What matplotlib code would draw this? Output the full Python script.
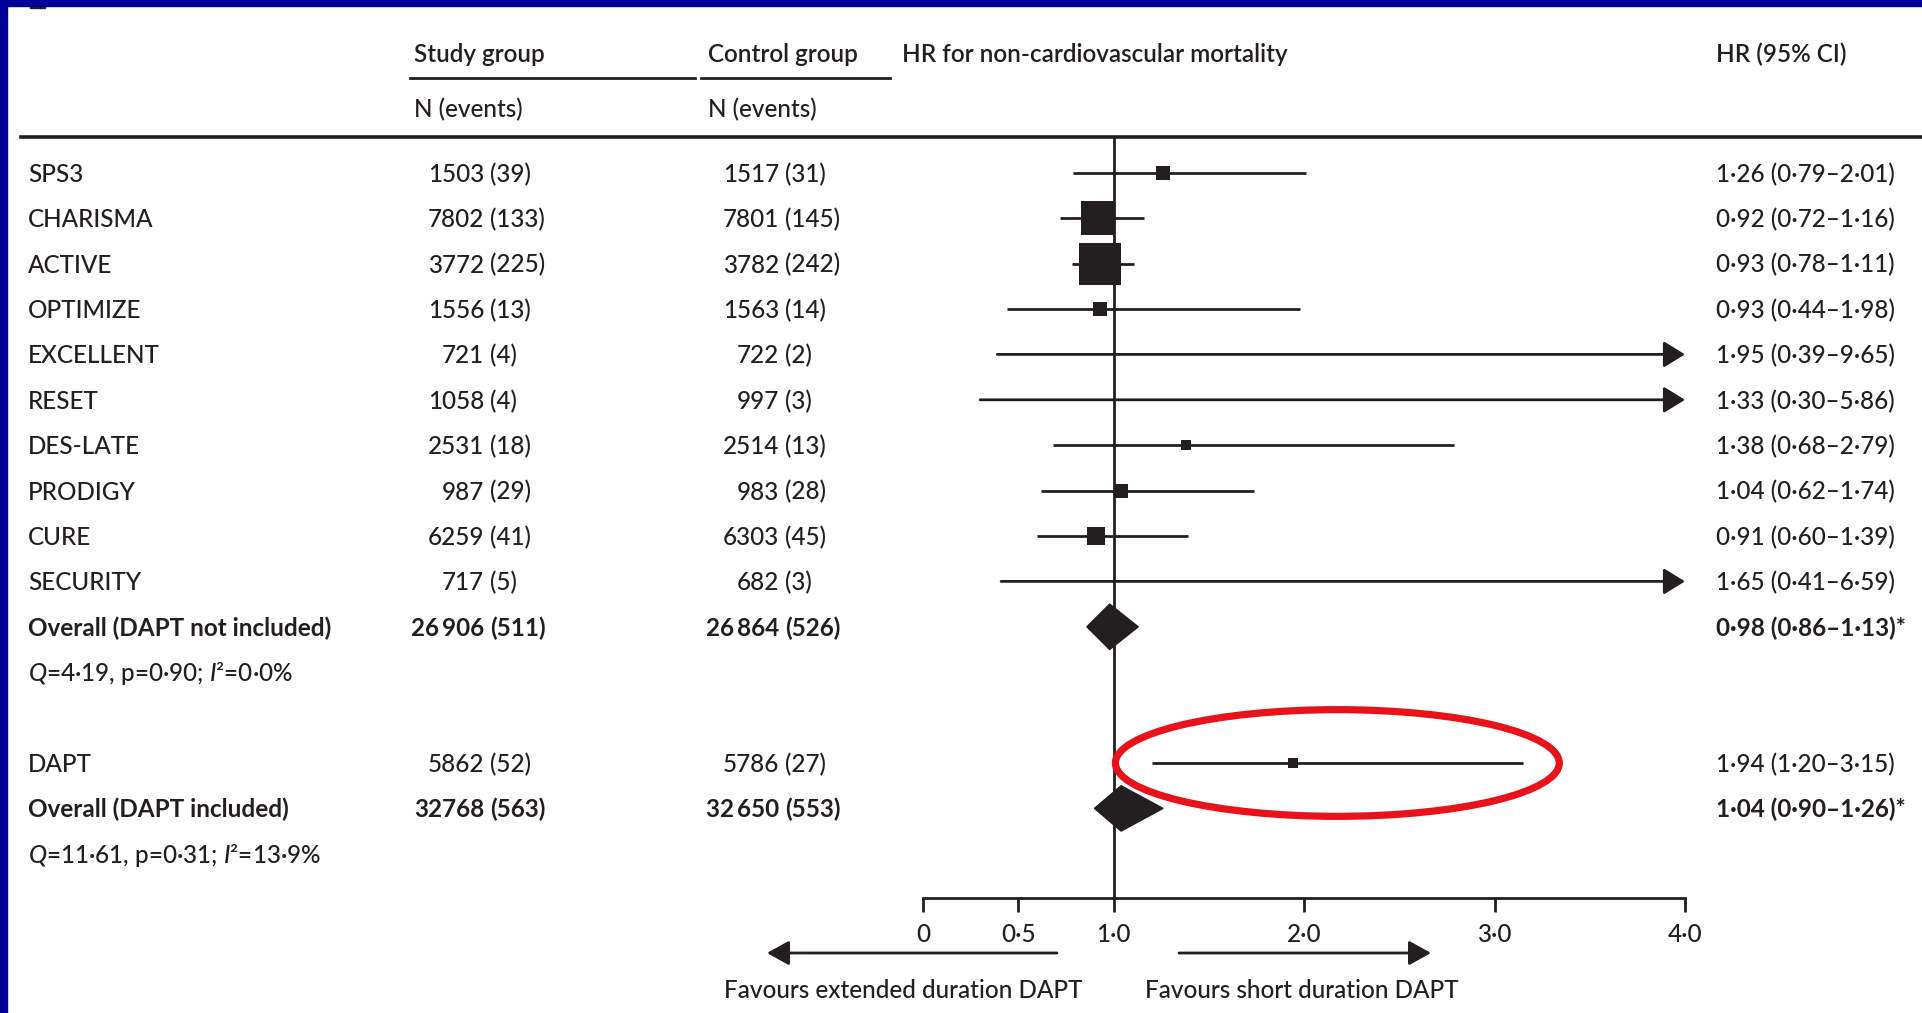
import matplotlib
matplotlib.use('Agg')
import matplotlib.pyplot as plt
import numpy as np
from matplotlib import font_manager as fm
from matplotlib.patches import Polygon, Ellipse, Rectangle

plt.rcParams['font.family'] = ['Lato', 'DejaVu Sans']
plt.rcParams['mathtext.fontset'] = 'custom'
plt.rcParams['mathtext.rm'] = 'Lato'
plt.rcParams['mathtext.it'] = 'Lato:italic:medium'

# data
studies = ['SPS3', 'CHARISMA', 'ACTIVE', 'OPTIMIZE', 'EXCELLENT', 'RESET',
           'DES-LATE', 'PRODIGY', 'CURE', 'SECURITY']
study_n = ['1503', '7802', '3772', '1556', '721', '1058', '2531', '987', '6259', '717']
study_ev = [39, 133, 225, 13, 4, 4, 18, 29, 41, 5]
ctrl_n = ['1517', '7801', '3782', '1563', '722', '997', '2514', '983', '6303', '682']
ctrl_ev = [31, 145, 242, 14, 2, 3, 13, 28, 45, 3]
hr = [1.26, 0.92, 0.93, 0.93, 1.95, 1.33, 1.38, 1.04, 0.91, 1.65]
hr_lo = [0.79, 0.72, 0.78, 0.44, 0.39, 0.30, 0.68, 0.62, 0.60, 0.41]
hr_hi = [2.01, 1.16, 1.11, 1.98, 9.65, 5.86, 2.79, 1.74, 1.39, 6.59]
weight = [4.4, 28.4, 43.8, 5.1, 0, 0, 2.6, 4.7, 8.4, 0]   # box area (no box drawn for 0)

pooled1 = dict(label='Overall (DAPT not included)', sn='26\u2009906', se=511, cn='26\u2009864', ce=526,
               hr=0.98, lo=0.86, hi=1.13, het=r'$\mathit{Q}$=4·19, p=0·90; $\mathit{I}$²=0·0%')
dapt = dict(label='DAPT', sn='5862', se=52, cn='5786', ce=27, hr=1.94, lo=1.20, hi=3.15, w=2.6)
pooled2 = dict(label='Overall (DAPT included)', sn='32768', se=563, cn='32\u2009650', ce=553,
               hr=1.04, lo=0.90, hi=1.26, het=r'$\mathit{Q}$=11·61, p=0·31; $\mathit{I}$²=13·9%')

xticks = [0, 0.5, 1, 2, 3, 4]
xticklabels = ['0', '0·5', '1·0', '2·0', '3·0', '4·0']

W, H = 1922, 1013
ink = '#231f20'
fs = 17.5
body = 'medium'
x0px, unit = 923, 190.5      # pixel of HR=0, pixels per HR unit
row0, rowh = 172.8, 45.4     # pixel of first row, row height
xmax = 4.0

# a semibold cut for the column headers, if there is one
semi = [f.fname for f in fm.fontManager.ttflist
        if f.name == 'Lato' and f.style == 'normal' and f.weight in (600, 'semibold')]
if semi:
    hdr_font = dict(fontproperties=fm.FontProperties(fname=semi[0], size=fs))
else:
    hdr_font = dict(fontsize=fs, weight='bold')

fig = plt.figure(figsize=(W / 100, H / 100), dpi=100)
fig.patch.set_facecolor('white')
ax = fig.add_axes([0, 0, 1, 1])
ax.set_xlim(-x0px / unit, (W - x0px) / unit)
ax.set_ylim((H - row0) / rowh, -row0 / rowh)
ax.axis('off')
ty = ax.get_yaxis_transform()


def row_of(ypx):
    return (ypx - row0) / rowh


def fx(xpx):
    return xpx / W


def put_row(r, label, sn, se, cn, ce, txt, bold=False):
    wt = 'bold' if bold else body
    yb = r + 0.2
    kw = dict(transform=ty, fontsize=fs, color=ink, va='baseline', weight=wt)
    ax.text(fx(28), yb, label, **kw)
    ax.text(fx(484), yb, sn, ha='right', **kw)
    ax.text(fx(490), yb, f'({se})', **kw)
    ax.text(fx(779), yb, cn, ha='right', **kw)
    ax.text(fx(785), yb, f'({ce})', **kw)
    ax.text(fx(1716), yb, txt, **kw)


def ci_line(r, est, lo, hi, w):
    if hi > xmax:
        ax.annotate('', xy=(xmax, r), xytext=(lo, r),
                    arrowprops=dict(arrowstyle='-|>,head_length=1.3,head_width=0.8',
                                    color=ink, lw=2.0, shrinkA=0, shrinkB=0, mutation_scale=10))
    else:
        ax.plot([lo, hi], [r, r], color=ink, lw=2.0, solid_capstyle='butt')
    if w > 0:
        side = 6.2 * np.sqrt(w) / 100 * 72
        ax.scatter([est], [r], marker='s', s=side ** 2, color=ink, linewidths=0, zorder=4)


def diamond(r, est, lo, hi):
    ax.add_patch(Polygon([(lo, r), (est, r - 0.5), (hi, r), (est, r + 0.5)],
                         closed=True, facecolor=ink, edgecolor=ink, lw=1, zorder=4))


def fmt(v):
    return f'{v:.2f}'.replace('.', '·')


# study rows
for i, name in enumerate(studies):
    put_row(i, name, study_n[i], study_ev[i], ctrl_n[i], ctrl_ev[i],
            f'{fmt(hr[i])} ({fmt(hr_lo[i])}–{fmt(hr_hi[i])})')
    ci_line(i, hr[i], hr_lo[i], hr_hi[i], weight[i])

r = len(studies)
put_row(r, pooled1['label'], pooled1['sn'], pooled1['se'], pooled1['cn'], pooled1['ce'],
        f"{fmt(pooled1['hr'])} ({fmt(pooled1['lo'])}–{fmt(pooled1['hi'])})*", bold=True)
diamond(r, pooled1['hr'], pooled1['lo'], pooled1['hi'])
ax.text(fx(28), r + 1.2, pooled1['het'], transform=ty, fontsize=fs, color=ink, va='baseline', weight=body)

r_d = r + 3
put_row(r_d, dapt['label'], dapt['sn'], dapt['se'], dapt['cn'], dapt['ce'],
        f"{fmt(dapt['hr'])} ({fmt(dapt['lo'])}–{fmt(dapt['hi'])})")
ci_line(r_d, dapt['hr'], dapt['lo'], dapt['hi'], dapt['w'])

r_p = r_d + 1
put_row(r_p, pooled2['label'], pooled2['sn'], pooled2['se'], pooled2['cn'], pooled2['ce'],
        f"{fmt(pooled2['hr'])} ({fmt(pooled2['lo'])}–{fmt(pooled2['hi'])})*", bold=True)
diamond(r_p, pooled2['hr'], pooled2['lo'], pooled2['hi'])
ax.text(fx(28), r_p + 1.2, pooled2['het'], transform=ty, fontsize=fs, color=ink, va='baseline', weight=body)

# red highlight around DAPT
ax.add_patch(Ellipse(((dapt['lo'] + dapt['hi']) / 2, r_d), dapt['hi'] - dapt['lo'] + 0.38, 2.35,
                     fill=False, edgecolor='#e8121a', lw=5.2, zorder=6))

# line of no effect
axis_px = 898.5
ax.vlines(1.0, row_of(137), row_of(axis_px), color=ink, lw=2.0, zorder=3)

# header
hdr = dict(transform=ty, color=ink, va='baseline', **hdr_font)
yh = row_of(52.7) + 0.2
ax.text(fx(414), yh, 'Study group', **hdr)
ax.text(fx(708), yh, 'Control group', **hdr)
ax.text(fx(902), yh, 'HR for non-cardiovascular mortality', **hdr)
ax.text(fx(1716), yh, 'HR (95% CI)', **hdr)
yn = row_of(108) + 0.2
ax.text(fx(414), yn, 'N (events)', transform=ty, fontsize=fs, color=ink, va='baseline', weight=body)
ax.text(fx(708), yn, 'N (events)', transform=ty, fontsize=fs, color=ink, va='baseline', weight=body)
ax.plot([fx(410), fx(695)], [row_of(78.5)] * 2, transform=ty, color=ink, lw=2.0)
ax.plot([fx(701), fx(890)], [row_of(78.5)] * 2, transform=ty, color=ink, lw=2.0)
ax.plot([fx(21), 1.0], [row_of(137.3)] * 2, transform=ty, color=ink, lw=2.6)

# HR scale
ax2 = fig.add_axes([fx(x0px), 1 - axis_px / H, xmax * unit / W, 0.0005])
ax2.set_xlim(0, xmax)
ax2.set_yticks([])
for s in ['top', 'left', 'right']:
    ax2.spines[s].set_visible(False)
ax2.spines['bottom'].set_linewidth(2.0)
ax2.spines['bottom'].set_color(ink)
ax2.patch.set_alpha(0)
ax2.set_xticks(xticks)
ax2.set_xticklabels(xticklabels, fontweight=body)
ax2.tick_params(axis='x', length=10, width=2.0, color=ink, labelcolor=ink, labelsize=fs, pad=8)

# favours arrows
arr = dict(arrowstyle='-|>,head_length=1.35,head_width=0.75', color=ink, lw=2.0,
           shrinkA=0, shrinkB=0, mutation_scale=10)
ya = 1 - 953 / H
ax.annotate('', xy=(fx(767), ya), xytext=(fx(1057), ya), xycoords='figure fraction',
            textcoords='figure fraction', arrowprops=arr)
ax.annotate('', xy=(fx(1431), ya), xytext=(fx(1179), ya), xycoords='figure fraction',
            textcoords='figure fraction', arrowprops=arr)
fig.text(fx(903), 1 - 990 / H, 'Favours extended duration DAPT', fontsize=fs, color=ink,
         ha='center', va='center', weight=body)
fig.text(fx(1302), 1 - 990 / H, 'Favours short duration DAPT', fontsize=fs, color=ink,
         ha='center', va='center', weight=body)

# slide frame (with the sliver of the cropped panel letter under it)
fig.patches.append(Rectangle((fx(30), 1 - 8 / H), 15 / W, 3 / H, transform=fig.transFigure,
                             color=ink, zorder=9))
fig.patches.append(Rectangle((0, 0), 7 / W, 1, transform=fig.transFigure, color='#000099', zorder=10))
fig.patches.append(Rectangle((0, 1 - 6 / H), 1, 6 / H, transform=fig.transFigure, color='#000099', zorder=10))

fig.savefig('out.png', dpi=100)
